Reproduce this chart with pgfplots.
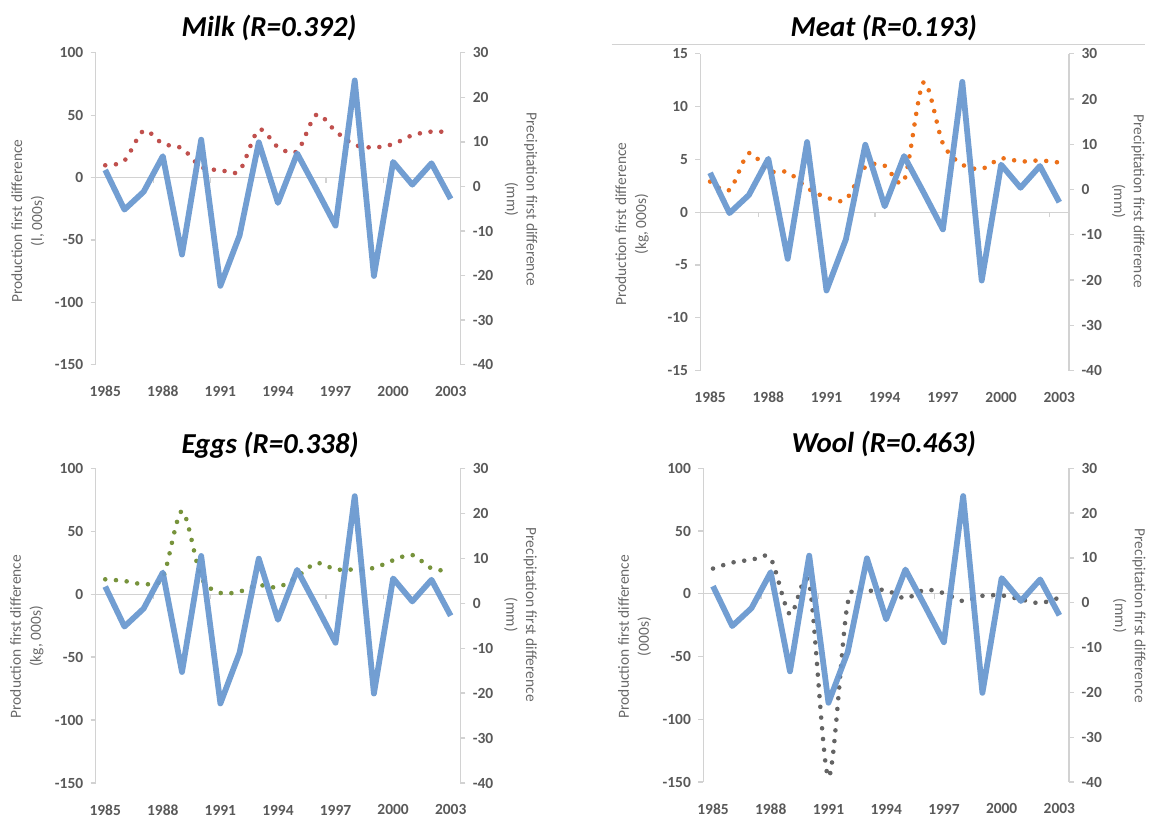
\documentclass[border=0pt]{standalone}
\usepackage{pgfplots}
\pgfplotsset{compat=1.18}
\usepackage{fontspec}
\setmainfont{Carlito}
\definecolor{blu}{RGB}{106,153,208}
\definecolor{milkc}{RGB}{192,80,77}
\definecolor{meatc}{RGB}{236,112,25}
\definecolor{eggc}{RGB}{119,147,60}
\definecolor{woolc}{RGB}{100,100,100}
\definecolor{axc}{RGB}{210,210,210}
\definecolor{txt}{RGB}{89,89,89}
\definecolor{lab}{RGB}{105,105,105}

\pgfplotsset{
  base/.style={scale only axis, xmin=1984.5, xmax=2003.5, clip=false,
    /pgf/number format/assume math mode=true,
    ticklabel style={font=\fontsize{15.5}{17}\selectfont\bfseries, text=txt},
    tick align=outside, major tick length=5pt,
    every tick/.style={axc, line width=1.3pt}},
  prim/.style={base, axis y line*=left, axis x line*=bottom,
    x axis line style={draw=none}, xtick={1985,1988,...,2003},
    xticklabels={1985,1988,1991,1994,1997,2000,2003},
    x tick style={draw=none},
    xticklabel style={anchor=center, yshift=-22pt},
    y axis line style={axc, line width=1.3pt},
    yticklabel style={xshift=-4pt}},
  sec/.style={base, axis y line*=right, axis x line=none,
    ymin=-40, ymax=30, ytick={-40,-30,...,30},
    y axis line style={axc, line width=1.3pt},
    yticklabel style={xshift=4pt}},
  dots/.style={smooth, tension=0.5, line width=4.6pt, line cap=round, dash pattern=on 0pt off 10.8pt},
  rain/.style={blu, line width=5.8pt, line join=round, opacity=0.95}
}
\newcommand{\zeroline}{%
  \draw[axc, line width=1.3pt] (axis cs:1984.5,0) -- (axis cs:2003.5,0);
  \pgfplotsinvokeforeach{1984.5,1987.5,1990.5,1993.5,1996.5,1999.5,2002.5}{\draw[axc, line width=1.3pt] (axis cs:##1,0) -- ++(0pt,-5pt);}%
}
\newcommand{\rainplot}{\addplot[rain] coordinates {(1985,3.7) (1986,-5.2) (1987,-1.2) (1988,6.8) (1989,-15.3) (1990,10.5) (1991,-22.3) (1992,-11.0) (1993,9.9) (1994,-3.7) (1995,7.4) (1996,-0.6) (1997,-8.8) (1998,23.8) (1999,-20.1) (2000,5.5) (2001,0.4) (2002,5.2) (2003,-2.8)};}

\begin{document}
\begin{tikzpicture}[x=1pt,y=1pt]
\path (0,0) rectangle (1149,814);
% gray rule above meat
\draw[axc, line width=1.2pt] (614,769) -- (1149,769);

%================ MILK
\begin{axis}[prim, at={(96pt,448pt)}, width=366pt, height=313pt,
  ymin=-150, ymax=100, ytick={-150,-100,...,100}]
\zeroline
\addplot[milkc, dots] coordinates {(1985,9.8) (1986,13.5) (1987,37.6) (1988,27) (1989,23.5) (1990,8.3) (1991,6) (1992,5.5) (1993,38.4) (1994,24.4) (1995,20.9) (1996,50.4) (1997,37.1) (1998,26.2) (1999,24.1) (2000,26.8) (2001,33.9) (2002,36.8) (2003,36.3)};
\end{axis}
\begin{axis}[sec, at={(96pt,448pt)}, width=366pt, height=313pt]
\rainplot
\end{axis}

%================ MEAT
\begin{axis}[prim, at={(703pt,442pt)}, width=370pt, height=318pt,
  ymin=-15, ymax=15, ytick={-15,-10,...,15}]
\zeroline
\addplot[meatc, dots] coordinates {(1985,2.9) (1986,2.1) (1987,5.6) (1988,3.9) (1989,3.8) (1990,2.3) (1991,1.4) (1992,1.2) (1993,4.3) (1994,4.4) (1995,3.0) (1996,12.3) (1997,6.5) (1998,4.5) (1999,4.1) (2000,5.1) (2001,4.8) (2002,4.9) (2003,4.7)};
\end{axis}
\begin{axis}[sec, at={(703pt,442pt)}, width=370pt, height=318pt]
\rainplot
\end{axis}

%================ EGGS
\begin{axis}[prim, at={(96pt,28pt)}, width=366pt, height=316pt,
  ymin=-150, ymax=100, ytick={-150,-100,...,100}]
\zeroline
\addplot[eggc, dots] coordinates {(1985,11.8) (1986,10.5) (1987,8.1) (1988,13) (1989,66) (1990,13.4) (1991,1) (1992,2.1) (1993,7.1) (1994,5.5) (1995,13.9) (1996,24.7) (1997,19.7) (1998,19.7) (1999,20.8) (2000,26.9) (2001,31.1) (2002,20.5) (2003,18.4)};
\end{axis}
\begin{axis}[sec, at={(96pt,28pt)}, width=366pt, height=316pt]
\rainplot
\end{axis}

%================ WOOL
\begin{axis}[prim, at={(706pt,29pt)}, width=367pt, height=315pt,
  ymin=-150, ymax=100, ytick={-150,-100,...,100}]
\zeroline
\addplot[woolc, dots] coordinates {(1985,20.1) (1986,24.9) (1987,27) (1988,28) (1989,-16.4) (1990,8) (1991,-146) (1992,-7.4) (1993,1.6) (1994,2.9) (1995,-3.7) (1996,3.2) (1997,0.5) (1998,-5.8) (1999,-1.6) (2000,-1.3) (2001,-4.5) (2002,-7.4) (2003,-3)};
\end{axis}
\begin{axis}[sec, at={(706pt,29pt)}, width=367pt, height=315pt]
\rainplot
\end{axis}

% titles
\begin{scope}[every node/.style={font=\fontsize{29}{32}\selectfont\bfseries\itshape, text=black}]
\node at (270,786) {Milk (R=0.392)};
\node at (887,786) {Meat (R=0.193)};
\node at (271,367) {Eggs (R=0.338)};
\node at (887,368) {Wool (R=0.463)};
\end{scope}
% axis titles
\begin{scope}[every node/.style={font=\fontsize{15.5}{20}\selectfont, text=lab, align=center}]
\node[rotate=90] at (28,592) {Production first difference\\(l, 000s)};
\node[rotate=-90] at (523,614) {Precipitation first difference\\(mm)};
\node[rotate=90] at (634.5,589) {Production first difference\\(kg, 000s)};
\node[rotate=-90] at (1132.5,612) {Precipitation first difference\\(mm)};
\node[rotate=90] at (27,175) {Production first difference\\(kg, 000s)};
\node[rotate=-90] at (522.5,197) {Precipitation first difference\\(mm)};
\node[rotate=90] at (637,175) {Production first difference\\(000s)};
\node[rotate=-90] at (1133.5,196) {Precipitation first difference\\(mm)};
\end{scope}
\end{tikzpicture}
\end{document}
